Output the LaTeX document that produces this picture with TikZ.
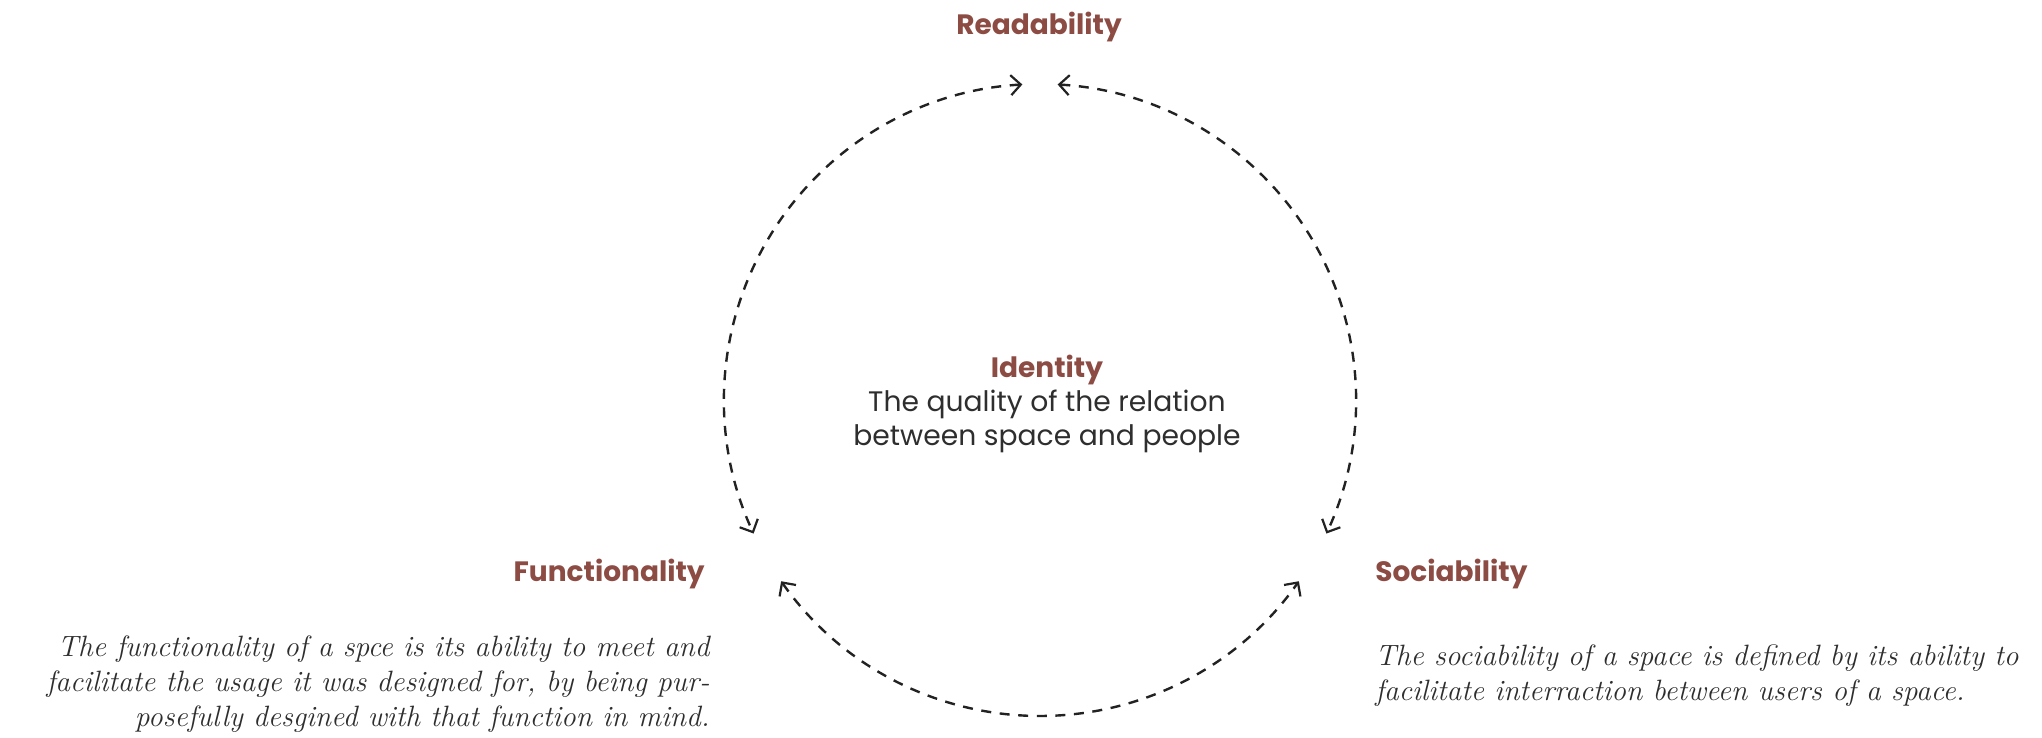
\documentclass[tikz,border=0pt]{standalone}
\usepackage{fontspec}
\newfontfamily\headfont{Poppins}
\usetikzlibrary{arrows.meta}
\definecolor{brownred}{HTML}{8C4B43}
\definecolor{txt}{HTML}{2E2E2E}
\definecolor{dashc}{HTML}{222222}
\begin{document}
\begin{tikzpicture}[x=0.5pt,y=0.5pt,
  head/.style={font=\headfont\bfseries\fontsize{14}{17}\selectfont, text=brownred, inner sep=0pt},
  body/.style={font=\headfont\fontsize{14.1}{17}\selectfont, text=txt, inner sep=0pt},
  para/.style={font=\itshape\fontsize{14.7}{17.5}\selectfont, text=txt, inner sep=0pt},
  cyc/.style={draw=dashc, line width=1.2pt, dash pattern=on 5pt off 4.3pt,
    {Straight Barb[length=5pt,width=10pt,line width=1.1pt]}-{Straight Barb[length=5pt,width=10pt,line width=1.1pt]}}]
\useasboundingbox (0,0) rectangle (2042,738);
\coordinate (c) at (1040,338);
\coordinate (a1) at ([shift={(93.2:316)}]c);
\coordinate (b1) at ([shift={(86.8:316)}]c);
\coordinate (d1) at ([shift={(215:316)}]c);
\draw[cyc] (a1) arc[start angle=93.2, end angle=205, radius=316];
\draw[cyc] (b1) arc[start angle=86.8, end angle=-25, radius=316];
\draw[cyc] (d1) arc[start angle=215, end angle=325, radius=316];
\node[head] (read) at (1039,711) {Readability};
\node[body, align=center] (iden) at (1047,334) {{\bfseries\fontsize{14}{17}\selectfont\color{brownred}Identity}\\The quality of the relation\\between space and people};
\node[head, anchor=east] (func) at (705,164) {Functionality};
\node[para, anchor=east, align=right] (funcp) at (710,54) {The functionality of a spce is its ability to meet and\\facilitate the usage it was designed for, by being pur-\\posefully desgined with that function in mind.};
\node[head, anchor=west] (soc) at (1375,164) {Sociability};
\node[para, anchor=west, align=left] (socp) at (1375,62.5) {The sociability of a space is defined by its ability to\\facilitate interraction between users of a space.};
\end{tikzpicture}
\end{document}
